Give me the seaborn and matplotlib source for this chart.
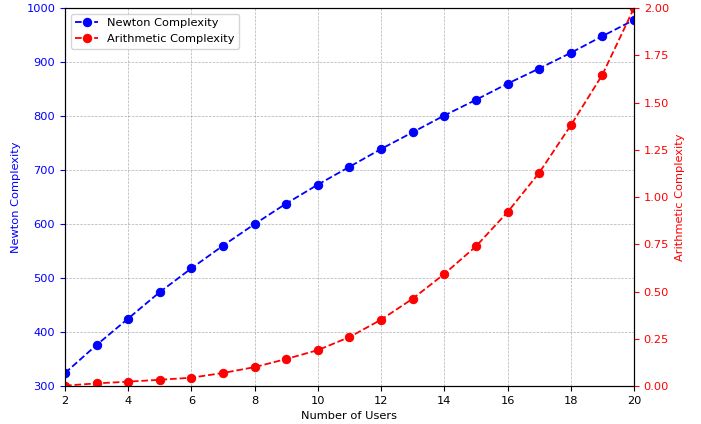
import pandas as pd
import matplotlib
matplotlib.use('Agg')
import matplotlib.pyplot as plt
import seaborn as sns

# values
users = list(range(2, 21))
newton = [324, 376, 425, 474, 518, 560, 600, 638, 673, 706,
          739, 770, 801, 830, 860, 888, 917, 948, 978]
arithmetic = [0.002, 0.014, 0.023, 0.033, 0.044, 0.069, 0.10, 0.143, 0.19, 0.259,
              0.351, 0.462, 0.593, 0.739, 0.92, 1.128, 1.379, 1.647, 2.0]

df = pd.DataFrame({'users': users, 'newton': newton, 'arithmetic': arithmetic})

plt.rcParams['font.size'] = 8.2

fig, ax1 = plt.subplots(figsize=(7.01, 4.24), dpi=100)
fig.subplots_adjust(left=0.0927, right=0.9044, bottom=0.0896, top=0.981)

sns.lineplot(x='users', y='newton', data=df, ax=ax1, color='blue', marker='o',
             linestyle='--', linewidth=1.3, markersize=6, markeredgecolor='blue',
             label='Newton Complexity', legend=False)
ax1.set_xlabel('Number of Users')
ax1.set_ylabel('Newton Complexity', color='blue')
ax1.tick_params(axis='y', colors='blue')
ax1.set_xlim(2, 20)
ax1.set_ylim(300, 1000)
ax1.set_xticks(range(2, 21, 2))
ax1.grid(True, linestyle='--', linewidth=0.5, color='gray', alpha=0.6)

ax2 = ax1.twinx()
sns.lineplot(x='users', y='arithmetic', data=df, ax=ax2, color='red', marker='o',
             linestyle='--', linewidth=1.3, markersize=6, markeredgecolor='red',
             label='Arithmetic Complexity', legend=False)
ax2.set_ylabel('Arithmetic Complexity', color='red')
ax2.tick_params(axis='y', colors='red')
ax2.set_ylim(0, 2.0)
ax2.set_yticks([0, 0.25, 0.5, 0.75, 1.0, 1.25, 1.5, 1.75, 2.0])
ax2.yaxis.set_major_formatter(matplotlib.ticker.FormatStrFormatter('%.2f'))

h1, l1 = ax1.get_legend_handles_labels()
h2, l2 = ax2.get_legend_handles_labels()
ax1.legend(h1 + h2, l1 + l2, loc='upper left')

plt.savefig('out.png', dpi=100)
